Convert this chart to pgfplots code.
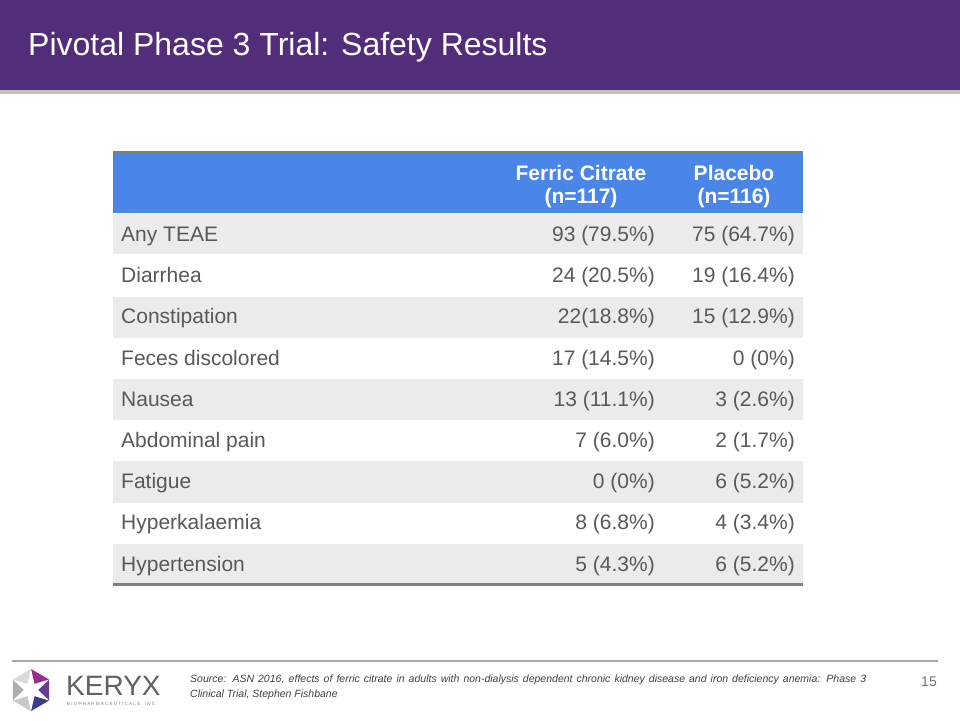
\documentclass[border=0pt]{standalone}
\usepackage{pgfplots}
\pgfplotsset{compat=1.18}
\usepackage{fontspec}
\setmainfont{Liberation Sans}
\newfontfamily\logofont[LetterSpace=25]{Liberation Sans}
\definecolor{purplebar}{HTML}{522D7A}
\definecolor{hdrblue}{HTML}{4A86E8}
\definecolor{rowgrey}{HTML}{EBEBEB}
\definecolor{bordergrey}{HTML}{7F7F7F}
\definecolor{txtgrey}{HTML}{595959}
\definecolor{magstar}{HTML}{9C2C8C}
\definecolor{midstar}{HTML}{6A3C96}
\definecolor{darkstar}{HTML}{3C3C8C}
\tikzset{rl/.style={anchor=base west,text=txtgrey,inner sep=0,font=\fontsize{21}{25}\selectfont},
  rv/.style={anchor=base east,text=txtgrey,inner sep=0,font=\fontsize{21}{25}\selectfont}}
\begin{document}
\begin{tikzpicture}
\begin{axis}[width=960pt,height=720pt,scale only axis,
  xmin=0,xmax=960,ymin=0,ymax=720,y dir=reverse,hide axis,clip=false]
% background
\fill[white] (0,0) rectangle (960,720);
% title bar
\fill[purplebar] (0,0) rectangle (960,90);
\fill[black!25] (0,90) rectangle (960,93.5);
\node[anchor=base west,text=white,inner sep=0,font=\fontsize{32}{38}\selectfont] at (28,55) {Pivotal Phase 3 Trial: Safety Results};
% table header
\fill[hdrblue] (113,152) rectangle (803,213);
\draw[bordergrey,line width=3pt] (113,152) -- (803,152);
% shaded rows
\fill[rowgrey] (113,214) rectangle (803,254.2);
\fill[rowgrey] (113,296.6) rectangle (803,337.8);
\fill[rowgrey] (113,379) rectangle (803,420.2);
\fill[rowgrey] (113,461.4) rectangle (803,502.6);
\fill[rowgrey] (113,543.8) rectangle (803,583);
\draw[bordergrey,line width=3pt] (113,584) -- (803,584);
% header text
\node[anchor=base,text=white,inner sep=0,font=\bfseries\fontsize{21}{25}\selectfont] at (581,180) {Ferric Citrate};
\node[anchor=base,text=white,inner sep=0,font=\bfseries\fontsize{21}{25}\selectfont] at (581,203) {(n=117)};
\node[anchor=base,text=white,inner sep=0,font=\bfseries\fontsize{21}{25}\selectfont] at (734,180) {Placebo};
\node[anchor=base,text=white,inner sep=0,font=\bfseries\fontsize{21}{25}\selectfont] at (734,203) {(n=116)};
% body
\node[rl] at (121,241.5) {Any TEAE};
\node[rv] at (655,241.5) {93 (79.5\%)};
\node[rv] at (795,241.5) {75 (64.7\%)};
\node[rl] at (121,282.7) {Diarrhea};
\node[rv] at (655,282.7) {24 (20.5\%)};
\node[rv] at (795,282.7) {19 (16.4\%)};
\node[rl] at (121,323.9) {Constipation};
\node[rv] at (655,323.9) {22(18.8\%)};
\node[rv] at (795,323.9) {15 (12.9\%)};
\node[rl] at (121,365.1) {Feces discolored};
\node[rv] at (655,365.1) {17 (14.5\%)};
\node[rv] at (795,365.1) {0 (0\%)};
\node[rl] at (121,406.3) {Nausea};
\node[rv] at (655,406.3) {13 (11.1\%)};
\node[rv] at (795,406.3) {3 (2.6\%)};
\node[rl] at (121,447.5) {Abdominal pain};
\node[rv] at (655,447.5) {7 (6.0\%)};
\node[rv] at (795,447.5) {2 (1.7\%)};
\node[rl] at (121,488.7) {Fatigue};
\node[rv] at (655,488.7) {0 (0\%)};
\node[rv] at (795,488.7) {6 (5.2\%)};
\node[rl] at (121,529.9) {Hyperkalaemia};
\node[rv] at (655,529.9) {8 (6.8\%)};
\node[rv] at (795,529.9) {4 (3.4\%)};
\node[rl] at (121,571.1) {Hypertension};
\node[rv] at (655,571.1) {5 (4.3\%)};
\node[rv] at (795,571.1) {6 (5.2\%)};
% footer
\draw[black!35,line width=1.5pt] (12,661) -- (938,661);
\node[anchor=north west,text=black!75,inner sep=0,font=\itshape\fontsize{10.5}{14.5}\selectfont,text width=676pt,align=justify] at (190,675)
 {Source: ASN 2016, effects of ferric citrate in adults with non-dialysis dependent chronic kidney disease and iron deficiency anemia: Phase 3\linebreak Clinical Trial, Stephen Fishbane};
\node[anchor=base east,text=black!55,inner sep=0,font=\fontsize{14}{16}\selectfont] at (937,686) {15};
% logo
\fill[magstar] (31,690) -- (31,669) -- (49.2,679.5) -- cycle;
\fill[midstar] (31,690) -- (49.2,679.5) -- (49.2,700.5) -- cycle;
\fill[darkstar] (31,690) -- (49.2,700.5) -- (31,711) -- cycle;
\fill[black!22] (31,690) -- (31,711) -- (12.8,700.5) -- cycle;
\fill[black!32] (31,690) -- (12.8,700.5) -- (12.8,679.5) -- cycle;
\fill[black!15] (31,690) -- (12.8,679.5) -- (31,669) -- cycle;
\fill[white] (31,669) -- (34.5,683.9) -- (49.2,679.5) -- (38,690) -- (49.2,700.5) -- (34.5,696.1) -- (31,711) -- (27.5,696.1) -- (12.8,700.5) -- (24,690) -- (12.8,679.5) -- (27.5,683.9) -- cycle;
\node[anchor=base west,text=black!62,inner sep=0,font=\fontsize{28}{30}\selectfont] at (66,695) {KERYX};
\node[anchor=base west,text=black!50,inner sep=0,font=\logofont\fontsize{4.6}{5}\selectfont] at (67,705) {BIOPHARMACEUTICALS, INC};
\end{axis}
\end{tikzpicture}
\end{document}
